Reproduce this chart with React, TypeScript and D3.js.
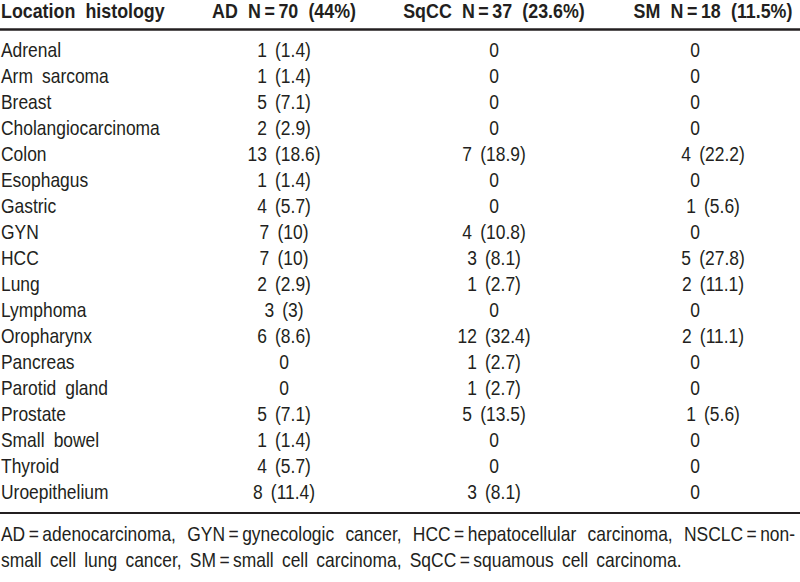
import React, { useEffect, useRef, useState } from "react";
import * as d3 from "d3";

const headers = ["Location histology", "AD N\u2009=\u200970 (44%)", "SqCC N\u2009=\u200937 (23.6%)", "SM N\u2009=\u200918 (11.5%)"];
const locations = ["Adrenal", "Arm sarcoma", "Breast", "Cholangiocarcinoma", "Colon", "Esophagus", "Gastric", "GYN", "HCC", "Lung", "Lymphoma", "Oropharynx", "Pancreas", "Parotid gland", "Prostate", "Small bowel", "Thyroid", "Uroepithelium"];
const adN = [1, 1, 5, 2, 13, 1, 4, 7, 7, 2, 3, 6, 0, 0, 5, 1, 4, 8];
const adPct = ["1.4", "1.4", "7.1", "2.9", "18.6", "1.4", "5.7", "10", "10", "2.9", "3", "8.6", "", "", "7.1", "1.4", "5.7", "11.4"];
const sqN = [0, 0, 0, 0, 7, 0, 0, 4, 3, 1, 0, 12, 1, 1, 5, 0, 0, 3];
const sqPct = ["", "", "", "", "18.9", "", "", "10.8", "8.1", "2.7", "", "32.4", "2.7", "2.7", "13.5", "", "", "8.1"];
const smN = [0, 0, 0, 0, 4, 0, 1, 0, 5, 2, 0, 2, 0, 0, 1, 0, 0, 0];
const smPct = ["", "", "", "", "22.2", "", "5.6", "", "27.8", "11.1", "", "11.1", "", "", "5.6", "", "", ""];
const footLine1 = "AD\u2009=\u2009adenocarcinoma, GYN\u2009=\u2009gynecologic cancer, HCC\u2009=\u2009hepatocellular carcinoma, NSCLC\u2009=\u2009non-";
const footLine2 = "small cell lung cancer, SM\u2009=\u2009small cell carcinoma, SqCC\u2009=\u2009squamous cell carcinoma.";

const W = 800;
const H = 582;
const FONT = "'Liberation Sans', Arial, 'Helvetica', sans-serif";
const FS = 20.5;
const SX = 0.85;
const SXB = 0.87;
const INK = "#231f20";

function cell(n: number, p: string) {
  return n === 0 ? "0" : `${n} (${p})`;
}

type TProps = {
  x: number;
  y: number;
  anchor?: "start" | "middle" | "end";
  bold?: boolean;
  ws?: number;
  children: React.ReactNode;
  tref?: React.Ref<SVGTextElement>;
};

function T({ x, y, anchor = "start", bold = false, ws = 4, children, tref }: TProps) {
  return (
    <text
      ref={tref}
      transform={`translate(${x},${y}) scale(${bold ? SXB : SX},1)`}
      textAnchor={anchor}
      fontWeight={bold ? "bold" : "normal"}
      wordSpacing={ws}
    >
      {children}
    </text>
  );
}

export default function App() {
  const line1Ref = useRef<SVGTextElement>(null);
  const [ws1, setWs1] = useState<number | null>(null);

  useEffect(() => {
    const el = line1Ref.current;
    if (!el || ws1 !== null) return;
    const natural = el.getComputedTextLength();
    const spaces = (footLine1.match(/ /g) || []).length;
    const target = (795 - 1) / SX;
    setWs1((target - natural) / spaces);
  }, [ws1]);

  const y = d3.scaleLinear().domain([0, locations.length - 1]).range([57, 499]);
  const cols = [
    { n: adN, p: adPct, x: 284, zx: 284 },
    { n: sqN, p: sqPct, x: 494, zx: 494 },
    { n: smN, p: smPct, x: 713, zx: 695 },
  ];
  const headerX = [1, 284, 494, 713];

  return (
    <svg
      width={W}
      height={H}
      style={{ position: "absolute", left: 0, top: 0, background: "#fff" }}
      fontFamily={FONT}
      fontSize={FS}
      fill={INK}
    >
      <rect x={0} y={0} width={W} height={H} fill="#fff" />
      {headers.map((h, i) => (
        <T key={h} x={headerX[i]} y={18} bold anchor={i === 0 ? "start" : "middle"} ws={6}>
          {h}
        </T>
      ))}
      <line x1={0} x2={W} y1={29.5} y2={29.5} stroke={INK} strokeWidth={2.5} />
      {locations.map((loc, i) => (
        <g key={loc}>
          <T x={1} y={y(i)} ws={5}>{loc}</T>
          {cols.map((c, j) => (
            <T key={j} x={c.n[i] === 0 ? c.zx : c.x} y={y(i)} anchor="middle">
              {cell(c.n[i], c.p[i])}
            </T>
          ))}
        </g>
      ))}
      <line x1={0} x2={W} y1={513} y2={513} stroke={INK} strokeWidth={2} />
      <T tref={line1Ref} x={1} y={541} ws={ws1 === null ? 0 : ws1}>{footLine1}</T>
      <T x={1} y={567} ws={4}>{footLine2}</T>
    </svg>
  );
}
